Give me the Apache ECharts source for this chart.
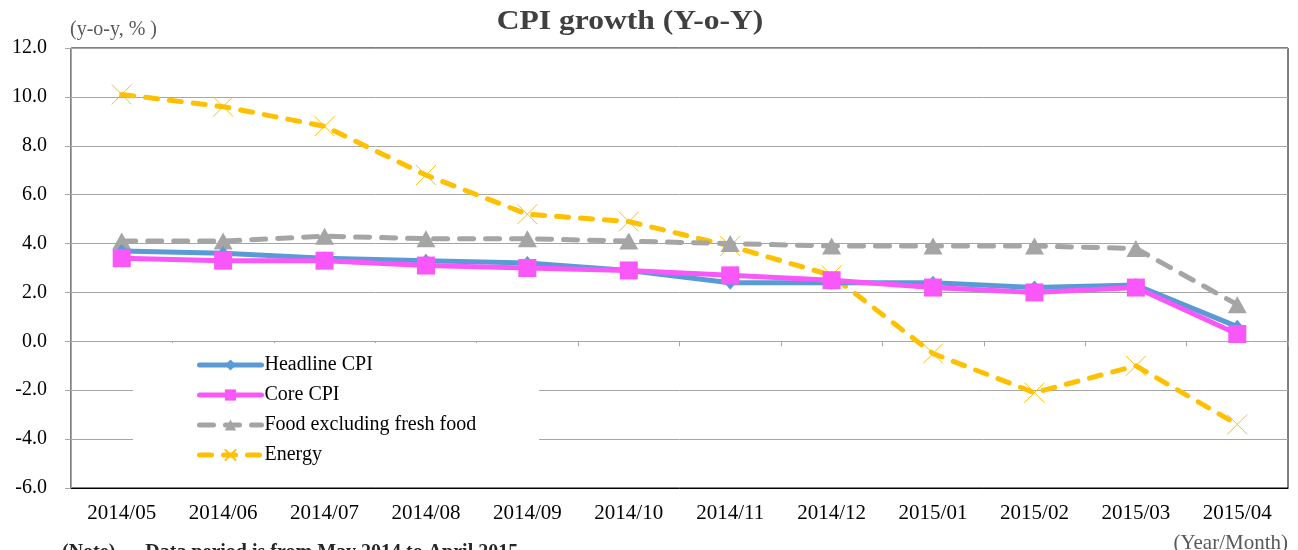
<!DOCTYPE html>
<html><head><meta charset="utf-8">
<script src="https://cdn.jsdelivr.net/npm/echarts@6/dist/echarts.min.js"></script>
<style>html,body{margin:0;padding:0;background:#fff}#c{width:1298px;height:550px}</style>
</head><body><div id="c"></div>
<script>
var categories = ['2014/05','2014/06','2014/07','2014/08','2014/09','2014/10','2014/11','2014/12','2015/01','2015/02','2015/03','2015/04'];
var headlineCPI = [3.7,3.6,3.4,3.3,3.2,2.9,2.4,2.4,2.4,2.2,2.3,0.6];
var coreCPI = [3.4,3.3,3.3,3.1,3.0,2.9,2.7,2.5,2.2,2.0,2.2,0.3];
var foodExFresh = [4.1,4.1,4.3,4.2,4.2,4.1,4.0,3.9,3.9,3.9,3.8,1.5];
var energy = [10.1,9.6,8.8,6.8,5.2,4.9,3.9,2.7,-0.5,-2.1,-1.0,-3.4];
var yTicks = {min:-6, max:12, interval:2};

var serif = '"Liberation Serif","DejaVu Serif",serif';
var chart = echarts.init(document.getElementById('c'));
var xSym = 'path://M0,0L20,20M20,0L0,20';
chart.setOption({
  animation:false,
  graphic:[
    {type:'text', x:630, y:9, scaleX:1.17, style:{text:'CPI growth (Y-o-Y)', textAlign:'center', textVerticalAlign:'top', font:'bold 27px '+serif, fill:'#404040'}},
    {type:'text', x:70, y:20, style:{text:'(y-o-y, % )', font:'20px '+serif, fill:'#595959'}},
    {type:'text', x:1288, y:533, style:{text:'(Year/Month)', textAlign:'right', font:'21px '+serif, fill:'#595959'}},
    {type:'text', x:62, y:543, style:{text:'(Note)      Data period is from May 2014 to April 2015.', font:'bold 20px '+serif, fill:'#262626'}}
  ],
  grid:{left:71, right:10, top:48, bottom:62, show:true, borderColor:'#000', borderWidth:1, backgroundColor:'transparent'},
  legend:{orient:'vertical', left:133, top:343, backgroundColor:'#fff',
    padding:[11,63,10,64], itemWidth:62, itemHeight:14, itemGap:8,
    lineStyle:{width:5},
    data:['Headline CPI','Core CPI','Food excluding fresh food','Energy'],
    textStyle:{fontFamily:serif, fontSize:20, color:'#000', lineHeight:22, padding:[0,0,0,-2]}},
  xAxis:[
    {type:'category', data:categories, boundaryGap:true, position:'bottom',
      axisLine:{onZero:true, lineStyle:{color:'#a6a6a6', width:1}},
      axisTick:{show:true, length:5, lineStyle:{color:'#a6a6a6'}},
      axisLabel:{show:false}, splitLine:{show:false}},
    {type:'category', data:categories, boundaryGap:true, position:'bottom',
      axisLine:{onZero:false, lineStyle:{color:'#000', width:1}},
      axisTick:{show:false},
      axisLabel:{show:true, margin:15, fontFamily:serif, fontSize:21, color:'#000'}}
  ],
  yAxis:{type:'value', min:yTicks.min, max:yTicks.max, interval:yTicks.interval,
    axisLine:{show:true, lineStyle:{color:'#a6a6a6'}},
    axisTick:{show:true, length:6, lineStyle:{color:'#a6a6a6'}},
    axisLabel:{margin:24, fontFamily:serif, fontSize:20, color:'#000', formatter:function(v){return v.toFixed(1);}},
    splitLine:{lineStyle:{color:'#a6a6a6', width:1}}},
  series:[
    {name:'Energy', type:'line', data:energy, z:2, symbol:xSym, symbolSize:20,
      itemStyle:{color:'#FFC000', borderColor:'#FFC000', borderWidth:1},
      lineStyle:{color:'#FFC000', width:5, type:[12,12], cap:'round'}},
    {name:'Food excluding fresh food', type:'line', data:foodExFresh, z:3, symbol:'triangle', symbolSize:[19,17],
      itemStyle:{color:'#A5A5A5'},
      lineStyle:{color:'#A5A5A5', width:5, type:[14,12], cap:'round'}},
    {name:'Headline CPI', type:'line', data:headlineCPI, z:4, symbol:'diamond', symbolSize:[12,14],
      itemStyle:{color:'#5B9BD5'},
      lineStyle:{color:'#5B9BD5', width:5, cap:'round'}},
    {name:'Core CPI', type:'line', data:coreCPI, z:5, symbol:'rect', symbolSize:18,
      itemStyle:{color:'#F957F9'},
      lineStyle:{color:'#F957F9', width:5, cap:'round'}}
  ]
});
</script></body></html>
